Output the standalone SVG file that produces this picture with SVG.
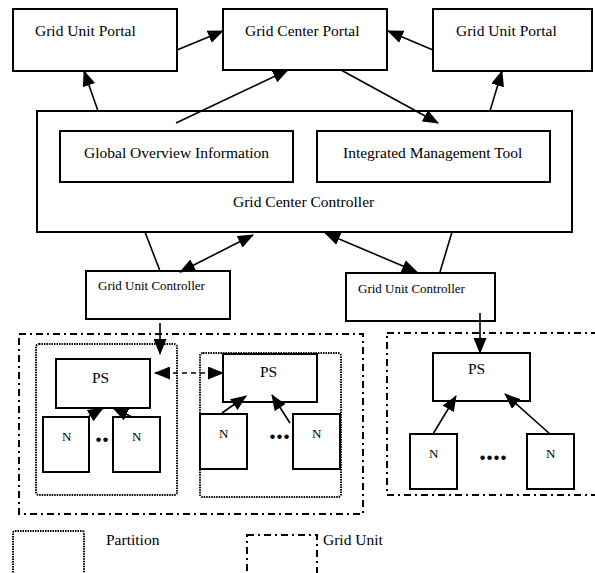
<svg xmlns="http://www.w3.org/2000/svg" width="595" height="573" viewBox="0 0 595 573">
  <style>
    .box { fill: #fff; stroke: #000; stroke-width: 2; }
    .part { fill: none; stroke: #000; stroke-width: 2; stroke-dasharray: 1.5 1; }
    .unit { fill: none; stroke: #000; stroke-width: 2; stroke-dasharray: 7 4 2 4; }
    .lbl { font-family: "Liberation Serif", "Times New Roman", serif; font-size: 15.5px; fill: #000; }
    .sm { font-size: 13px; }
    .dots { font-family: "Liberation Serif", serif; font-size: 28px; font-weight: bold; fill: #000; }
    .conn line { stroke: #000; stroke-width: 1.6; fill: none; }
    .conn .arr { marker-end: url(#ah); }
    .conn .bi { marker-start: url(#ah); marker-end: url(#ah); }
    .conn .dash { stroke-dasharray: 5 4; marker-start: url(#ah); marker-end: url(#ah); }
  </style>
  <defs>
    <marker id="ah" viewBox="0 0 16 13" refX="15" refY="6.5" markerWidth="16" markerHeight="13" markerUnits="userSpaceOnUse" orient="auto-start-reverse">
      <path d="M0,0 L16,6.5 L0,13 z" fill="#000"/>
    </marker>
  </defs>

  <rect width="595" height="573" fill="#fff"/>

  <!-- grid unit regions (dash-dot) -->
  <g id="grid-unit-1"><rect class="unit" x="19" y="334" width="344" height="180"/></g>
  <g id="grid-unit-2"><rect class="unit" x="387" y="333" width="220" height="162"/></g>

  <!-- partitions (dotted) -->
  <g id="partition-1"><rect class="part" x="36" y="344" width="141" height="151" rx="3"/></g>
  <g id="partition-2"><rect class="part" x="200" y="353" width="141" height="144" rx="3"/></g>

  <!-- portals -->
  <g id="grid-unit-portal-left">
    <rect class="box" x="13" y="9" width="164" height="62"/>
    <text class="lbl" x="35" y="36">Grid Unit Portal</text>
  </g>
  <g id="grid-center-portal">
    <rect class="box" x="223" y="9" width="164" height="61"/>
    <text class="lbl" x="245" y="36">Grid Center Portal</text>
  </g>
  <g id="grid-unit-portal-right">
    <rect class="box" x="433" y="9" width="159" height="62"/>
    <text class="lbl" x="456" y="36">Grid Unit Portal</text>
  </g>

  <!-- center controller with its two tools -->
  <g id="grid-center-controller">
    <rect class="box" x="37" y="111" width="535" height="121"/>
    <text class="lbl" x="233" y="207">Grid Center Controller</text>
  </g>
  <g id="global-overview">
    <rect class="box" x="60" y="131" width="233" height="51"/>
    <text class="lbl" x="84" y="158">Global Overview Information</text>
  </g>
  <g id="integrated-management">
    <rect class="box" x="317" y="131" width="233" height="51"/>
    <text class="lbl" x="343" y="158">Integrated Management Tool</text>
  </g>

  <!-- unit controllers -->
  <g id="grid-unit-controller-left">
    <rect class="box" x="86" y="271" width="144" height="48"/>
    <text class="lbl sm" x="98" y="290">Grid Unit Controller</text>
  </g>
  <g id="grid-unit-controller-right">
    <rect class="box" x="346" y="273" width="149" height="48"/>
    <text class="lbl sm" x="358" y="293">Grid Unit Controller</text>
  </g>

  <!-- partition servers -->
  <g id="ps-1">
    <rect class="box" x="56" y="359" width="94" height="49"/>
    <text class="lbl" x="92" y="383">PS</text>
  </g>
  <g id="ps-2">
    <rect class="box" x="223" y="354" width="94" height="48"/>
    <text class="lbl" x="260" y="377">PS</text>
  </g>
  <g id="ps-3">
    <rect class="box" x="433" y="353" width="97" height="48"/>
    <text class="lbl" x="468" y="374">PS</text>
  </g>

  <!-- nodes -->
  <g id="n-1"><rect class="box" x="43" y="417" width="46" height="55"/><text class="lbl sm" x="62" y="441">N</text></g>
  <g id="n-2"><rect class="box" x="113" y="417" width="47" height="55"/><text class="lbl sm" x="132" y="441">N</text></g>
  <g id="n-3"><rect class="box" x="200" y="414" width="47" height="55"/><text class="lbl sm" x="219" y="438">N</text></g>
  <g id="n-4"><rect class="box" x="293" y="414" width="47" height="55"/><text class="lbl sm" x="312" y="438">N</text></g>
  <g id="n-5"><rect class="box" x="410" y="434" width="47" height="55"/><text class="lbl sm" x="429" y="458">N</text></g>
  <g id="n-6"><rect class="box" x="527" y="434" width="47" height="55"/><text class="lbl sm" x="546" y="458">N</text></g>

  <!-- ellipses between nodes -->
  <text class="dots" x="95" y="442">..</text>
  <text class="dots" x="269" y="439">...</text>
  <text class="dots" x="479" y="460">....</text>

  <!-- connectors -->
  <g id="connectors" class="conn">
    <line class="arr" x1="177" y1="50" x2="223" y2="31"/>
    <line class="arr" x1="98" y1="111" x2="84" y2="71"/>
    <line class="arr" x1="176" y1="123" x2="288" y2="70"/>
    <line class="arr" x1="341" y1="70" x2="438" y2="123"/>
    <line class="arr" x1="433" y1="50" x2="388" y2="31"/>
    <line class="arr" x1="490" y1="111" x2="502" y2="71"/>
    <line x1="145" y1="232" x2="160" y2="271"/>
    <line class="bi" x1="180" y1="272" x2="253" y2="235"/>
    <line class="bi" x1="325" y1="233" x2="417" y2="272"/>
    <line x1="452" y1="232" x2="440" y2="272"/>
    <line class="arr" x1="160" y1="323" x2="160" y2="354"/>
    <line class="arr" x1="480" y1="313" x2="480" y2="353"/>
    <line class="dash" x1="155" y1="373" x2="223" y2="373"/>
    <line class="arr" x1="88" y1="417" x2="103" y2="408"/>
    <line class="arr" x1="132" y1="417" x2="113" y2="408"/>
    <line class="arr" x1="222" y1="413" x2="246" y2="396"/>
    <line class="arr" x1="290" y1="423" x2="272" y2="395"/>
    <line class="arr" x1="433" y1="434" x2="456" y2="396"/>
    <line class="arr" x1="550" y1="434" x2="505" y2="394"/>
  </g>

  <!-- legend -->
  <g id="legend">
    <rect class="part" x="13" y="531" width="71" height="50" rx="2"/>
    <text class="lbl" x="106" y="545">Partition</text>
    <rect class="unit" x="247" y="535" width="70" height="50"/>
    <text class="lbl" x="323" y="545">Grid Unit</text>
  </g>
</svg>
